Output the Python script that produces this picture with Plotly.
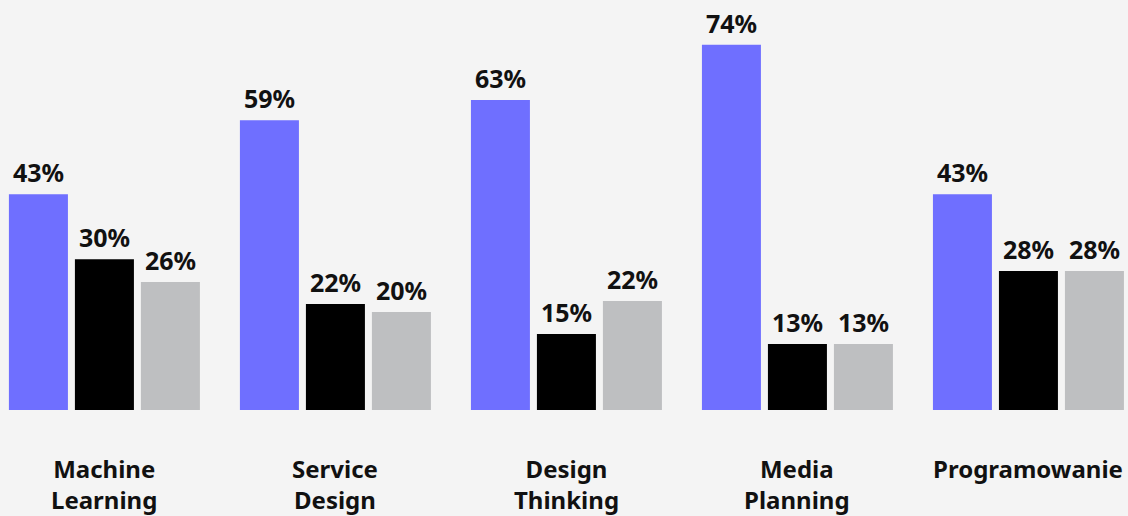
import plotly.graph_objects as go

categories = ["Machine<br>Learning", "Service<br>Design", "Design<br>Thinking", "Media<br>Planning", "Programowanie"]
series_a = [43.8, 58.8, 62.9, 74.1, 43.8]
series_b = [30.6, 21.5, 15.4, 13.4, 28.2]
series_c = [26.0, 19.9, 22.1, 13.4, 28.2]
labels_a = ["43%", "59%", "63%", "74%", "43%"]
labels_b = ["30%", "22%", "15%", "13%", "28%"]
labels_c = ["26%", "20%", "22%", "13%", "28%"]
colors = ["#6f6fff", "#000000", "#bebfc1"]

BARGAP = 0.1429
GROUPGAP = 0.106
FONT = "Noto Sans"

x_idx = list(range(len(categories)))
fig = go.Figure()
all_series = [series_a, series_b, series_c]
all_labels = [labels_a, labels_b, labels_c]
for vals, col in zip(all_series, colors):
    fig.add_trace(go.Bar(x=x_idx, y=vals, marker=dict(color=col, line=dict(width=0)), hoverinfo="skip"))

slot = (1 - BARGAP) / 3
for k, (vals, labs) in enumerate(zip(all_series, all_labels)):
    for i, (v, lab) in enumerate(zip(vals, labs)):
        fig.add_annotation(x=i + (k - 1) * slot, y=v, xref="x", yref="y", text=f"<b>{lab}</b>",
                           showarrow=False, yanchor="bottom", yshift=3,
                           font=dict(family=FONT, size=25, color="#111111"))

for i, c in enumerate(categories):
    fig.add_annotation(x=i, y=0, xref="x", yref="y", text=f"<b>{c}</b>", showarrow=False,
                       yanchor="top", yshift=-40,
                       font=dict(family=FONT, size=24, color="#111111"))

fig.update_layout(
    width=1128, height=516, margin=dict(l=0, r=0, t=0, b=106),
    paper_bgcolor="#f4f4f4", plot_bgcolor="#f4f4f4",
    barmode="group", bargap=BARGAP, bargroupgap=GROUPGAP,
    showlegend=False,
    font=dict(family=FONT),
)
fig.update_xaxes(range=[-0.452, 4.431], visible=False)
fig.update_yaxes(range=[0, 83.2], visible=False)
fig.write_html("out.html")
